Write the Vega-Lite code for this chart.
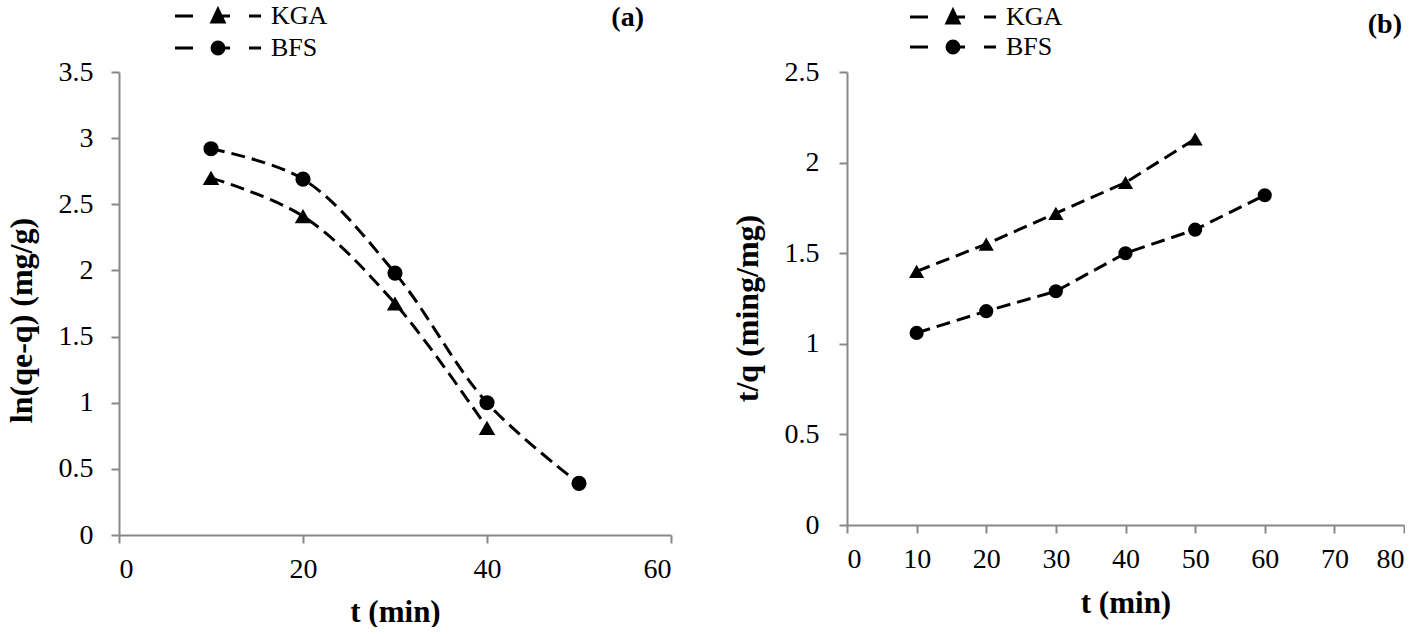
{
  "$schema": "https://vega.github.io/schema/vega-lite/v6.json",
  "background": "white",
  "padding": {"left": 5, "top": 3, "right": 0, "bottom": 0},
  "spacing": 59,
  "config": {
    "view": {"stroke": null},
    "axis": {
      "grid": false,
      "domainColor": "#888888", "domainWidth": 2,
      "tickColor": "#888888", "tickWidth": 2, "tickSize": 8,
      "labelFont": "Liberation Serif", "labelFontSize": 28, "labelColor": "black",
      "titleFont": "Liberation Serif", "titleFontWeight": "bold", "titleColor": "black"
    },
    "legend": {"labelFont": "Liberation Serif", "padding": 0},
    "title": {"font": "Liberation Serif", "fontWeight": "bold", "fontSize": 28, "color": "black"}
  },
  "resolve": {"scale": {"color": "independent", "opacity": "independent", "x": "independent", "y": "independent"},
              "legend": {"color": "independent", "opacity": "independent"}},
  "hconcat": [
    {
      "width": 552, "height": 463,
      "title": {"text": "(a)", "anchor": "end", "frame": "group", "dx": -27, "offset": -29, "font": "Liberation Serif"},
      "data": {"values": [
        {"t": 10, "v": 2.70, "s": "KGA"}, {"t": 20, "v": 2.41, "s": "KGA"}, {"t": 30, "v": 1.75, "s": "KGA"}, {"t": 40, "v": 0.81, "s": "KGA"},
        {"t": 10, "v": 2.92, "s": "BFS"}, {"t": 20, "v": 2.69, "s": "BFS"}, {"t": 30, "v": 1.98, "s": "BFS"}, {"t": 40, "v": 1.00, "s": "BFS"}, {"t": 50, "v": 0.39, "s": "BFS"}
      ]},
      "encoding": {
        "x": {"field": "t", "type": "quantitative", "scale": {"domain": [0, 60], "nice": false},
              "axis": {"values": [0, 20, 40, 60], "title": "t (min)", "titleFontSize": 31, "labelPadding": 12, "titlePadding": 14,
                       "labelFont": "Liberation Serif", "titleFont": "Liberation Serif"}},
        "y": {"field": "v", "type": "quantitative", "scale": {"domain": [0, 3.5], "nice": false},
              "axis": {"values": [0, 0.5, 1, 1.5, 2, 2.5, 3, 3.5], "format": "~g", "title": "ln(qe-q) (mg/g)", "titleFontSize": 32, "labelPadding": 18, "titlePadding": 20, "titleY": 248,
                       "labelFont": "Liberation Serif", "titleFont": "Liberation Serif"}}
      },
      "layer": [
        {"mark": {"type": "line", "interpolate": "catmull-rom", "color": "black", "strokeWidth": 3, "strokeDash": [14, 7]},
         "encoding": {"detail": {"field": "s"}}},
        {"transform": [{"filter": "datum.s === 'KGA'"}],
         "mark": {"type": "point", "filled": true, "shape": "triangle-up", "opacity": 1, "size": 270},
         "encoding": {
           "color": {"field": "s", "type": "nominal", "scale": {"domain": ["KGA"], "range": ["black"]},
             "legend": {"orient": "none", "legendX": 50, "legendY": -69, "title": null,
               "symbolType": "M-1,0H1.57M5.14,-0.95L6,0.85L4.28,0.85ZM5.14,0H6.86M9.57,0H11.29",
               "symbolSize": 196, "symbolStrokeColor": "black", "symbolStrokeWidth": 3, "symbolFillColor": "black",
               "labelFont": "Liberation Serif", "labelFontSize": 26, "labelColor": "black", "labelOffset": 76}}
         }},
        {"transform": [{"filter": "datum.s === 'BFS'"}],
         "mark": {"type": "point", "filled": true, "shape": "circle", "color": "black", "size": 230},
         "encoding": {
           "opacity": {"field": "s", "type": "nominal", "scale": {"domain": ["BFS"], "range": [1]},
             "legend": {"orient": "none", "legendX": 50, "legendY": -37, "title": null,
               "symbolType": "M-1,0H1.57M4.29,0A0.85,0.85 0 1,0 5.99,0A0.85,0.85 0 1,0 4.29,0ZM5.14,0H6.86M9.57,0H11.29",
               "symbolSize": 196, "symbolStrokeColor": "black", "symbolStrokeWidth": 3, "symbolFillColor": "black",
               "labelFont": "Liberation Serif", "labelFontSize": 26, "labelColor": "black", "labelOffset": 76,
               "encoding": {"symbols": {"stroke": {"value": "black"}, "strokeWidth": {"value": 3}, "fill": {"value": "black"}}}}}
         }}
      ]
    },
    {
      "width": 557, "height": 453,
      "title": {"text": "(b)", "anchor": "end", "frame": "group", "dx": -2, "offset": -35, "font": "Liberation Serif"},
      "data": {"values": [
        {"t": 10, "v": 1.40, "s": "KGA"}, {"t": 20, "v": 1.55, "s": "KGA"}, {"t": 30, "v": 1.72, "s": "KGA"}, {"t": 40, "v": 1.89, "s": "KGA"}, {"t": 50, "v": 2.13, "s": "KGA"},
        {"t": 10, "v": 1.06, "s": "BFS"}, {"t": 20, "v": 1.18, "s": "BFS"}, {"t": 30, "v": 1.29, "s": "BFS"}, {"t": 40, "v": 1.50, "s": "BFS"}, {"t": 50, "v": 1.63, "s": "BFS"}, {"t": 60, "v": 1.82, "s": "BFS"}
      ]},
      "encoding": {
        "x": {"field": "t", "type": "quantitative", "scale": {"domain": [0, 80], "nice": false},
              "axis": {"values": [0, 10, 20, 30, 40, 50, 60, 70, 80], "title": "t (min)", "titleFontSize": 31, "labelPadding": 12, "titlePadding": 15,
                       "labelFont": "Liberation Serif", "titleFont": "Liberation Serif"}},
        "y": {"field": "v", "type": "quantitative", "scale": {"domain": [0, 2.5], "nice": false},
              "axis": {"values": [0, 0.5, 1, 1.5, 2, 2.5], "format": "~g", "title": "t/q (ming/mg)", "titleFontSize": 32, "labelPadding": 20, "titlePadding": 20, "titleY": 236,
                       "labelFont": "Liberation Serif", "titleFont": "Liberation Serif"}}
      },
      "layer": [
        {"mark": {"type": "line", "color": "black", "strokeWidth": 3, "strokeDash": [14, 7]},
         "encoding": {"detail": {"field": "s"}}},
        {"transform": [{"filter": "datum.s === 'KGA'"}],
         "mark": {"type": "point", "filled": true, "shape": "triangle-up", "opacity": 1, "size": 230},
         "encoding": {
           "color": {"field": "s", "type": "nominal", "scale": {"domain": ["KGA"], "range": ["black"]},
             "legend": {"orient": "none", "legendX": 57, "legendY": -68, "title": null,
               "symbolType": "M-1,0H1.57M5.14,-0.95L6,0.85L4.28,0.85ZM5.14,0H6.86M9.57,0H11.29",
               "symbolSize": 196, "symbolStrokeColor": "black", "symbolStrokeWidth": 3, "symbolFillColor": "black",
               "labelFont": "Liberation Serif", "labelFontSize": 26, "labelColor": "black", "labelOffset": 76}}
         }},
        {"transform": [{"filter": "datum.s === 'BFS'"}],
         "mark": {"type": "point", "filled": true, "shape": "circle", "color": "black", "size": 200},
         "encoding": {
           "opacity": {"field": "s", "type": "nominal", "scale": {"domain": ["BFS"], "range": [1]},
             "legend": {"orient": "none", "legendX": 57, "legendY": -38, "title": null,
               "symbolType": "M-1,0H1.57M4.29,0A0.85,0.85 0 1,0 5.99,0A0.85,0.85 0 1,0 4.29,0ZM5.14,0H6.86M9.57,0H11.29",
               "symbolSize": 196, "symbolStrokeColor": "black", "symbolStrokeWidth": 3, "symbolFillColor": "black",
               "labelFont": "Liberation Serif", "labelFontSize": 26, "labelColor": "black", "labelOffset": 76,
               "encoding": {"symbols": {"stroke": {"value": "black"}, "strokeWidth": {"value": 3}, "fill": {"value": "black"}}}}}
         }}
      ]
    }
  ]
}
